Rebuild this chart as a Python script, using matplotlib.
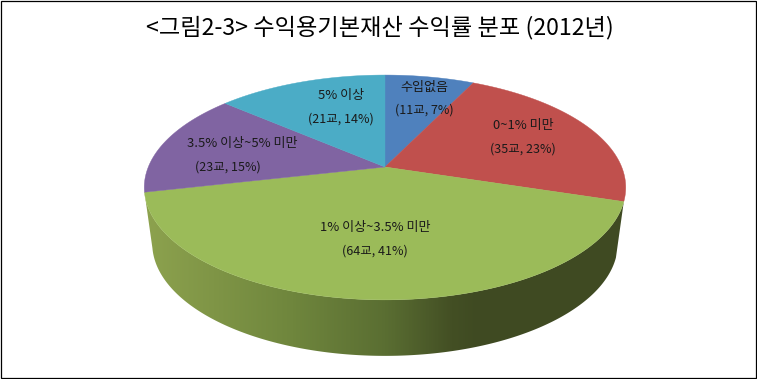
import numpy as np
import matplotlib
matplotlib.use('Agg')
import matplotlib.pyplot as plt
from matplotlib.colors import LinearSegmentedColormap
from matplotlib.patches import Polygon, Rectangle

plt.rcParams['font.family'] = ['Noto Sans CJK KR', 'DejaVu Sans']

title = '<그림2-3> 수익용기본재산 수익률 분포 (2012년)'
categories = ['수입없음', '0~1% 미만', '1% 이상~3.5% 미만', '3.5% 이상~5% 미만', '5% 이상']
schools = [11, 35, 64, 23, 21]
shares = [7, 23, 41, 15, 14]
colors = ['#4F81BD', '#C0504D', '#9BBB59', '#8064A2', '#4BACC6']


# perspective view of the unit disc, in pixel coordinates of the picture
def project(theta, r=1.0):
    u = r * np.sin(theta)
    v = r * np.cos(theta)
    d = 1 + 0.182 * v
    return 385 + 236.7 * u / d, (167 - 78.3 * v) / d


fig = plt.figure(figsize=(7.57, 3.79), dpi=100)
ax = fig.add_axes([0, 0, 1, 1])
ax.set_xlim(0, 757)
ax.set_ylim(379, 0)
ax.axis('off')

# angles from the school counts, clockwise from the top
edges = np.concatenate([[0], np.cumsum(schools)]) / sum(schools) * 2 * np.pi

# side wall under the big green slice
arc = np.linspace(edges[2], edges[3], 200)
xt, yt = project(arc)
xb = 385 + (xt - 385) * 0.967
yb = yt + 56
wall = Polygon(np.vstack([np.c_[xt, yt], np.c_[xb, yb][::-1]]), closed=True,
               facecolor='none', edgecolor='none')
ax.add_patch(wall)
side = LinearSegmentedColormap.from_list('side', [(0, '#8DA24E'), (0.44, '#6F863D'),
                                                  (0.72, '#5A6E32'), (0.92, '#434F24'),
                                                  (1, '#3F4A22')])
grad = np.clip((np.linspace(144, 626, 482) - 144) / (480 - 144), 0, 1)
im = ax.imshow(grad[None, :], extent=[144, 626, 360, 190], cmap=side, vmin=0, vmax=1,
               aspect='auto', zorder=1)
im.set_clip_path(wall)
ax.set_xlim(0, 757)
ax.set_ylim(379, 0)

# top face
for i in range(len(schools)):
    a = np.linspace(edges[i], edges[i + 1], 120)
    x, y = project(a)
    cx, cy = project(0.0, 0.0)
    pts = np.vstack([[cx, cy], np.c_[x, y]])
    ax.add_patch(Polygon(pts, closed=True, facecolor=colors[i], edgecolor=colors[i],
                         linewidth=0.3, zorder=2))

ax.text(379.5, 28, title, ha='center', va='center', fontsize=16.7, color='black')

label_xy = [(424, 87), (523, 126), (375, 228), (242, 144), (341, 96)]
count_xy = [(424, 110), (523, 149), (375, 251), (228, 167), (341, 119)]
for i in range(len(categories)):
    ax.text(label_xy[i][0], label_xy[i][1], categories[i], ha='center', va='center',
            fontsize=9.4, color='#1a1a1a', zorder=3)
    ax.text(count_xy[i][0], count_xy[i][1], '(%d교, %d%%)' % (schools[i], shares[i]),
            ha='center', va='center', fontsize=9, color='#1a1a1a', zorder=3)

# black frame of the picture
ax.add_patch(Rectangle((0.5, 0.5), 755.5, 377.5, facecolor='none', edgecolor='black',
                       linewidth=0.9, zorder=4, clip_on=False))

fig.savefig('out.png', dpi=100)
